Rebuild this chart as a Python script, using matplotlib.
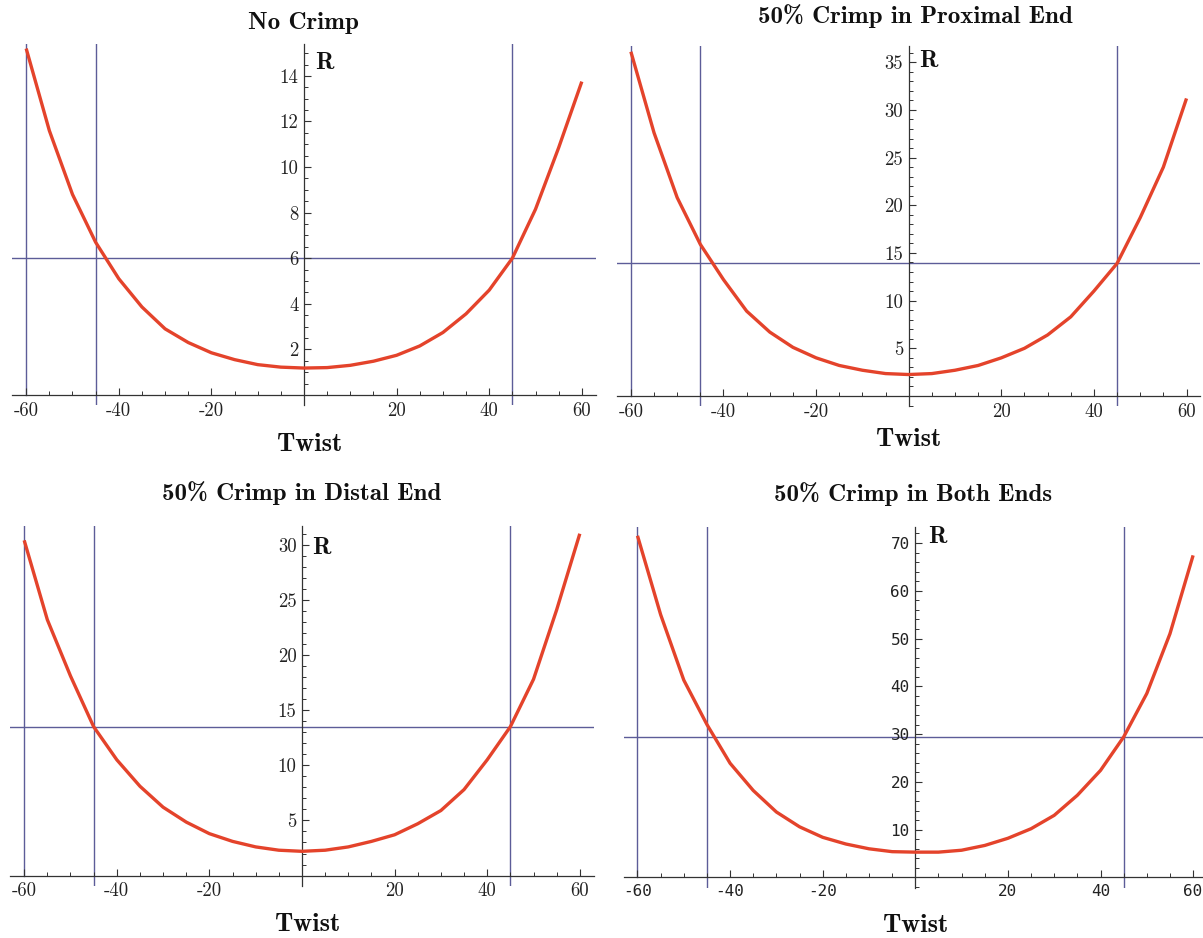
import matplotlib
matplotlib.use("Agg")
import matplotlib.pyplot as plt
from matplotlib.ticker import MultipleLocator, FixedLocator

# ---------------- data ----------------
twist = [-60, -55, -50, -45, -40, -35, -30, -25, -20, -15, -10, -5, 0,
         5, 10, 15, 20, 25, 30, 35, 40, 45, 50, 55, 60]

no_crimp = [15.2, 11.6, 8.8, 6.7, 5.1, 3.86, 2.9, 2.3, 1.85, 1.55, 1.33, 1.22, 1.18,
            1.2, 1.3, 1.48, 1.74, 2.15, 2.74, 3.56, 4.6, 6.0, 8.15, 10.85, 13.75]
proximal = [36.1, 27.6, 20.8, 15.9, 12.2, 8.9, 6.7, 5.1, 4.0, 3.2, 2.7, 2.35, 2.25,
            2.35, 2.7, 3.2, 4.0, 5.0, 6.4, 8.3, 11.0, 13.9, 18.7, 24.0, 31.2]
distal = [30.4, 23.2, 18.1, 13.5, 10.5, 8.1, 6.2, 4.85, 3.8, 3.1, 2.6, 2.3, 2.2,
          2.3, 2.6, 3.1, 3.7, 4.7, 5.9, 7.8, 10.5, 13.5, 17.8, 24.1, 31.0]
both = [71.5, 55.0, 41.3, 32.0, 23.9, 18.2, 13.7, 10.6, 8.4, 7.0, 6.0, 5.4, 5.3,
        5.3, 5.7, 6.7, 8.2, 10.2, 13.0, 17.2, 22.4, 29.4, 38.5, 51.0, 67.4]

titles = ["No Crimp", "50% Crimp in Proximal End",
          "50% Crimp in Distal End", "50% Crimp in Both Ends"]
thresholds = [6.0, 13.9, 13.5, 29.3]
vlines = [-45, 45]
left_line = -60

x_major = [-60, -40, -20, 20, 40, 60]
x_labels = ["-60", "-40", "-20", "20", "40", "60"]
y_major = [[2, 4, 6, 8, 10, 12, 14],
           [5, 10, 15, 20, 25, 30, 35],
           [5, 10, 15, 20, 25, 30],
           [10, 20, 30, 40, 50, 60, 70]]
y_minor_step = [0.5, 1, 1, 2]
series = [no_crimp, proximal, distal, both]

# ---------------- layout ----------------
W, H = 1203, 938
fig = plt.figure(figsize=(W / 100, H / 100), dpi=100)


def rect(l, r, t, b):
    return [l / W, 1 - b / H, (r - l) / W, (b - t) / H]


# (left, right, top, bottom) pixels ; ylim
panels = [
    dict(px=(12.3, 595.7, 44, 405.2), ylim=(-0.45, 15.4),
         title=(303.5, 29.5), xlab=(310, 451), r_off=(11, 8)),
    dict(px=(617.0, 1200.4, 46, 406.0), ylim=(-1.05, 36.7),
         title=(915.5, 23), xlab=(909, 446), r_off=(10, 4)),
    dict(px=(10.3, 593.7, 526, 885.5), ylim=(-0.9, 31.7),
         title=(301.5, 500), xlab=(308, 931), r_off=(10, 11)),
    dict(px=(623.6, 1207.0, 526.7, 887.5), ylim=(-2.1, 73.4),
         title=(913, 500.5), xlab=(916, 932), r_off=(13, -1)),
]

RED = "#e4432b"
GRID = "#5c5c98"
AXC = "#333333"
BIG = 18

for i, p in enumerate(panels):
    ax = fig.add_axes(rect(*p["px"]))
    ylo, yhi = p["ylim"]
    ax.set_xlim(-63, 63)
    ax.set_ylim(ylo, yhi)
    ax.patch.set_alpha(0)

    for v in vlines:
        ax.axvline(v, color=GRID, lw=1.0, zorder=1)
    ax.axvline(left_line, ymin=(0 - ylo) / (yhi - ylo), ymax=1, color=GRID, lw=1.0, zorder=1)
    ax.axhline(thresholds[i], color=GRID, lw=1.0, zorder=1)

    ax.plot(twist, series[i], color=RED, lw=2.4, solid_joinstyle="round",
            solid_capstyle="butt", zorder=3)

    for s in ("top", "right"):
        ax.spines[s].set_visible(False)
    ax.spines["left"].set_position(("data", 0))
    ax.spines["bottom"].set_position(("data", 0))
    for s in ("left", "bottom"):
        ax.spines[s].set_color(AXC)
        ax.spines[s].set_linewidth(0.9)
        ax.spines[s].set_zorder(2)

    ax.xaxis.set_major_locator(FixedLocator(x_major))
    ax.set_xticklabels(x_labels)
    ax.xaxis.set_minor_locator(MultipleLocator(5))
    ax.yaxis.set_major_locator(FixedLocator(y_major[i]))
    ax.set_yticklabels([str(v) for v in y_major[i]])
    ax.yaxis.set_minor_locator(MultipleLocator(y_minor_step[i]))

    ax.tick_params(which="major", direction="in", length=5, width=0.8, color=AXC,
                   labelcolor="#222222")
    ax.tick_params(which="minor", direction="in", length=3, width=0.7, color=AXC)
    ax.tick_params(axis="x", which="major", pad=5)
    ax.tick_params(axis="y", which="major", pad=4)

    if i < 3:
        tfont = dict(family="cmr10", size=13.5)
    else:
        tfont = dict(family="DejaVu Sans Mono", size=11.5)
    for lab in ax.get_xticklabels() + ax.get_yticklabels():
        lab.set_fontfamily(tfont["family"])
        lab.set_fontsize(tfont["size"])

    ax.annotate("R", xy=(0, 1), xycoords=("data", "axes fraction"),
                xytext=(p["r_off"][0], -p["r_off"][1]), textcoords="offset pixels",
                ha="left", va="top", fontsize=17.5, family="cmb10", color="#111111")

    tx, ty = p["title"]
    fig.text(tx / W, 1 - ty / H, titles[i], ha="center", va="baseline",
             fontsize=BIG, family="cmb10", color="#111111")
    lx, ly = p["xlab"]
    fig.text(lx / W, 1 - ly / H, "Twist", ha="center", va="baseline",
             fontsize=BIG + 1, family="cmb10", color="#111111")

fig.savefig("out.png", dpi=100)
